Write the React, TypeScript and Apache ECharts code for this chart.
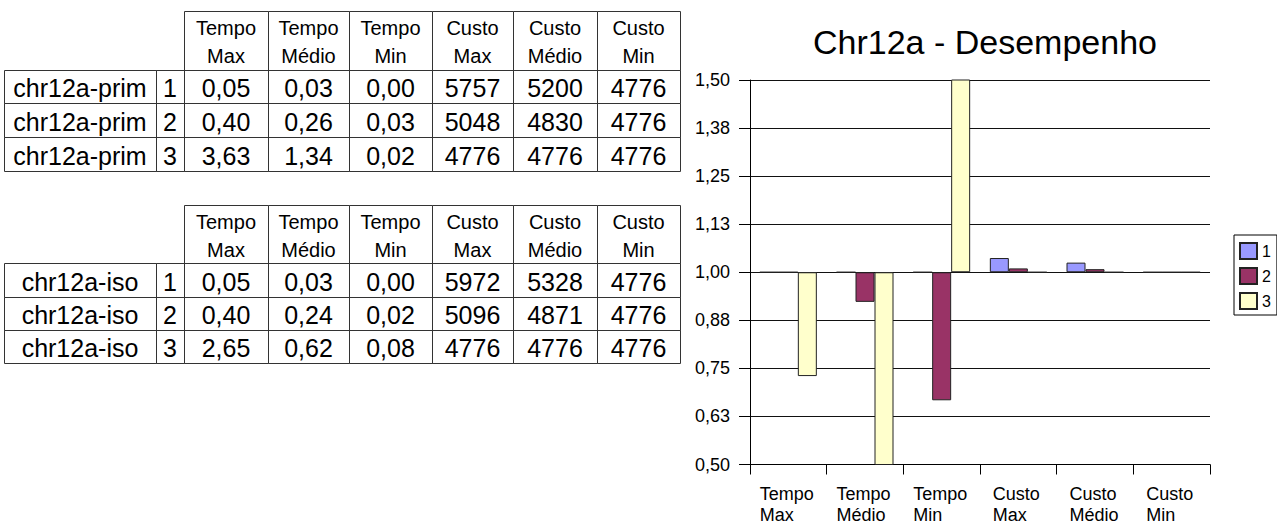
import React, { useEffect, useRef } from 'react';
import * as echarts from 'echarts';

// ---- data ----
const categories = ['Tempo\nMax', 'Tempo\nMédio', 'Tempo\nMin', 'Custo\nMax', 'Custo\nMédio', 'Custo\nMin'];
const seriesNames = ['1', '2', '3'];
// ratios (iso / prim) plotted around the 1,00 baseline
const ratio1 = [1.0, 1.0, 1.0, 1.037, 1.025, 1.0];
const ratio2 = [1.0, 0.923, 0.667, 1.01, 1.008, 1.0];
const ratio3 = [0.73, 0.463, 4.0, 1.0, 1.0, 1.0];
const seriesColors = ['#9999FF', '#993366', '#FFFFCC'];

const chartTitle = 'Chr12a - Desempenho';

const primLabel = 'chr12a-prim';
const isoLabel = 'chr12a-iso';
const runLabels = ['1', '2', '3'];
const primRun1 = [0.05, 0.03, 0.0, 5757, 5200, 4776];
const primRun2 = [0.4, 0.26, 0.03, 5048, 4830, 4776];
const primRun3 = [3.63, 1.34, 0.02, 4776, 4776, 4776];
const isoRun1 = [0.05, 0.03, 0.0, 5972, 5328, 4776];
const isoRun2 = [0.4, 0.24, 0.02, 5096, 4871, 4776];
const isoRun3 = [2.65, 0.62, 0.08, 4776, 4776, 4776];

const FONT = "'Liberation Sans', Arial, Helvetica, sans-serif";
const BASE = 1;

const fmtCell = (v: number, i: number) => (i < 3 ? v.toFixed(2).replace('.', ',') : String(v));

function buildTable(headerTop: number, rowEdges: number[], label: string, rows: number[][]) {
  const cols = [4, 156, 184, 268, 349, 432, 513, 597, 680];
  const els: any[] = [];
  const stroke = '#333';
  const headerBottom = rowEdges[0];
  for (let c = 2; c < cols.length - 1; c++) {
    els.push({
      type: 'rect',
      shape: { x: cols[c] + 0.5, y: headerTop + 0.5, width: cols[c + 1] - cols[c], height: headerBottom - headerTop },
      style: { fill: '#fff', stroke, lineWidth: 1 },
    });
    els.push({
      type: 'text',
      x: (cols[c] + cols[c + 1]) / 2,
      y: (headerTop + headerBottom) / 2 + 1.5,
      style: {
        text: categories[c - 2],
        fontSize: 20,
        lineHeight: 28,
        fontFamily: FONT,
        fill: '#000',
        align: 'center',
        verticalAlign: 'middle',
      },
    });
  }
  rows.forEach((row, r) => {
    const y0 = rowEdges[r];
    const y1 = rowEdges[r + 1];
    const cells = [label, runLabels[r], ...row.map(fmtCell)];
    for (let c = 0; c < cols.length - 1; c++) {
      els.push({
        type: 'rect',
        shape: { x: cols[c] + 0.5, y: y0 + 0.5, width: cols[c + 1] - cols[c], height: y1 - y0 },
        style: { fill: 'transparent', stroke, lineWidth: 1 },
      });
      els.push({
        type: 'text',
        x: (cols[c] + cols[c + 1]) / 2,
        y: (y0 + y1) / 2 + 1.5,
        style: {
          text: cells[c],
          fontSize: 25,
          fontFamily: FONT,
          fill: '#000',
          align: 'center',
          verticalAlign: 'middle',
        },
      });
    }
  });
  return els;
}

export default function App() {
  const ref = useRef<HTMLDivElement>(null);
  useEffect(() => {
    if (!ref.current) return;
    const chart = echarts.init(ref.current, undefined, { renderer: 'svg' });
    const ratios = [ratio1, ratio2, ratio3];
    const labelText = (v: string) => {
      const [a, b] = v.split('\n');
      const k = a === 'Tempo' ? 't' : 'c';
      return `{${k}|${a}}\n{${k}|${b}}`;
    };
    const richBase = { fontSize: 18, lineHeight: 21, fontFamily: FONT, color: '#000', align: 'left' };
    chart.setOption({
      animation: false,
      backgroundColor: '#fff',
      textStyle: { fontFamily: FONT },
      grid: { left: 750, right: 67, top: 80, bottom: 57, containLabel: false },
      legend: {
        orient: 'vertical',
        left: 1234,
        top: 235,
        padding: [7, 6, 5, 5],
        itemGap: 7,
        itemWidth: 17,
        itemHeight: 16,
        borderColor: '#000',
        borderWidth: 1,
        icon: 'rect',
        data: seriesNames,
        textStyle: { fontSize: 16, color: '#000', fontFamily: FONT },
      },
      xAxis: {
        type: 'category',
        data: categories,
        axisLine: { onZero: false, lineStyle: { color: '#000', width: 1 } },
        axisTick: { show: true, length: 10, lineStyle: { color: '#000' } },
        axisLabel: {
          interval: 0,
          margin: 19,
          align: 'center',
          formatter: labelText,
          rich: {
            t: { ...richBase, width: 57 },
            c: { ...richBase, width: 51 },
          },
        },
        splitLine: { show: false },
      },
      yAxis: {
        type: 'value',
        min: -0.5,
        max: 0.5,
        interval: 0.125,
        axisLine: { show: true, lineStyle: { color: '#000', width: 1 } },
        axisTick: { show: true, length: 11, lineStyle: { color: '#000' } },
        axisLabel: {
          margin: 20,
          fontSize: 18,
          color: '#000',
          fontFamily: FONT,
          formatter: (v: number) => (v + BASE).toFixed(2).replace('.', ','),
        },
        splitLine: { show: true, lineStyle: { color: '#111', width: 1 } },
      },
      series: seriesNames.map((name, i) => ({
        name,
        type: 'bar',
        barWidth: 19,
        barGap: '0%',
        clip: true,
        data: ratios[i].map((v) => v - BASE),
        itemStyle: { color: seriesColors[i], borderColor: '#222', borderWidth: 1 },
        emphasis: { disabled: true },
      })),
      graphic: [
        {
          type: 'text',
          x: 985,
          y: 41.5,
          style: {
            text: chartTitle,
            fontSize: 34,
            fontFamily: FONT,
            fill: '#000',
            align: 'center',
            verticalAlign: 'middle',
          },
        },
        ...buildTable(11, [70, 103, 137, 171], primLabel, [primRun1, primRun2, primRun3]),
        ...buildTable(205, [263, 297, 330, 363], isoLabel, [isoRun1, isoRun2, isoRun3]),
      ],
    });
    return () => chart.dispose();
  }, []);
  return <div ref={ref} style={{ position: 'fixed', left: 0, top: 0, width: 1277, height: 524 }} />;
}
